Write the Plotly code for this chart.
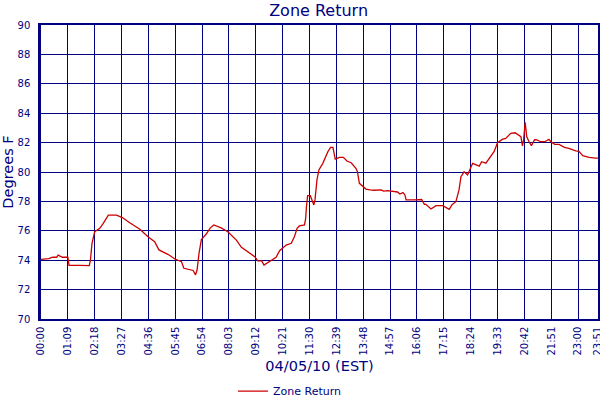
import plotly.graph_objects as go

# Zone Return readings for 04/05/10 (time of day, degrees F)
times = [
    "00:00", "00:20", "00:30", "00:40", "00:44", "00:55", "01:09", "01:12",
    "01:40", "02:04", "02:07", "02:11", "02:18", "02:31", "02:40", "02:53",
    "03:14", "03:29", "03:48", "04:14", "04:35", "04:52", "05:03", "05:26",
    "05:44", "06:01", "06:07", "06:31", "06:37", "06:41", "06:46", "06:52",
    "07:05", "07:15", "07:24", "07:43", "08:00", "08:22", "08:35", "08:52",
    "09:09", "09:17", "09:27", "09:33", "09:40", "09:52", "10:04", "10:13",
    "10:30", "10:43", "10:51", "10:58", "11:04", "11:17", "11:20", "11:22",
    "11:25", "11:32", "11:36", "11:41", "11:44", "11:49", "11:54", "12:04",
    "12:17", "12:24", "12:30", "12:36", "12:47", "12:57", "13:06", "13:17",
    "13:29", "13:33", "13:38", "13:47", "13:55", "14:06", "14:15", "14:34",
    "14:40", "14:51", "15:16", "15:22", "15:30", "15:35", "15:38", "15:59",
    "16:12", "16:18", "16:25", "16:29", "16:42", "16:55", "17:12", "17:29",
    "17:36", "17:46", "17:54", "17:59", "18:03", "18:07", "18:16", "18:22",
    "18:29", "18:46", "18:52", "19:03", "19:16", "19:24", "19:33", "19:45",
    "19:54", "20:07", "20:18", "20:33", "20:37", "20:40", "20:44", "20:48",
    "20:54", "21:00", "21:08", "21:14", "21:24", "21:34", "21:45", "21:50",
    "22:00", "22:11", "22:25", "22:36", "22:54", "23:02", "23:12", "23:28",
    "23:45", "23:51",
]
temps = [
    74.06, 74.1, 74.2, 74.2, 74.35, 74.2, 74.2, 73.65,
    73.65, 73.63, 74.0, 75.15, 75.94, 76.17, 76.5, 77.07,
    77.07, 76.9, 76.55, 76.1, 75.6, 75.26, 74.7, 74.4,
    74.08, 73.9, 73.45, 73.3, 73.0, 73.33, 74.47, 75.4,
    75.8, 76.2, 76.4, 76.2, 75.94, 75.37, 74.88, 74.58,
    74.24, 73.95, 73.95, 73.67, 73.78, 74.0, 74.2, 74.65,
    75.03, 75.15, 75.6, 76.17, 76.33, 76.4, 76.85, 77.64,
    78.39, 78.39, 78.1, 77.76, 78.1, 79.46, 80.14, 80.59,
    81.38, 81.68, 81.68, 80.88, 81.0, 81.0, 80.75, 80.63,
    80.25, 80.02, 79.23, 79.0, 78.84, 78.78, 78.76, 78.78,
    78.7, 78.73, 78.64, 78.5, 78.6, 78.44, 78.1, 78.1,
    78.15, 78.13, 77.8, 77.8, 77.48, 77.71, 77.71, 77.46,
    77.78, 77.98, 78.78, 79.68, 79.84, 80.02, 79.8, 80.14,
    80.59, 80.4, 80.7, 80.6, 81.04, 81.38, 81.99, 82.22,
    82.29, 82.63, 82.67, 82.4, 81.77, 82.2, 83.38, 82.4,
    82.06, 81.79, 82.2, 82.18, 82.06, 82.06, 82.22, 82.06,
    81.88, 81.88, 81.68, 81.61, 81.43, 81.4, 81.11, 81.0,
    80.95, 80.95,
]

tick_labels = [
    "00:00", "01:09", "02:18", "03:27", "04:36", "05:45", "06:54", "08:03",
    "09:12", "10:21", "11:30", "12:39", "13:48", "14:57", "16:06", "17:15",
    "18:24", "19:33", "20:42", "21:51", "23:00", "23:51",
]

day = "2010-04-05 "
x_vals = [day + t + ":00" for t in times]
tick_vals = [day + t + ":00" for t in tick_labels]

navy = "#000080"
font_family = "DejaVu Sans, Verdana, sans-serif"

fig = go.Figure()
fig.add_trace(
    go.Scatter(
        x=x_vals,
        y=temps,
        mode="lines",
        name="Zone Return",
        line=dict(color="#CC0000", width=1.3),
    )
)

fig.update_layout(
    width=600,
    height=400,
    margin=dict(l=41, r=2, t=25, b=81, autoexpand=False),
    paper_bgcolor="white",
    plot_bgcolor="white",
    font=dict(family=font_family, color=navy),
    title=dict(
        text="Zone Return",
        x=0.531,
        xanchor="center",
        y=0.975,
        yanchor="middle",
        font=dict(size=16, color=navy, family=font_family),
    ),
    xaxis=dict(
        type="date",
        range=[day + "00:00:00", day + "23:51:05"],
        tickmode="array",
        tickvals=tick_vals,
        ticktext=tick_labels,
        tickangle=-90,
        tickfont=dict(size=10, color=navy),
        ticklabelstandoff=2,
        ticklabeloverflow="allow",
        showgrid=True,
        gridcolor=navy,
        gridwidth=1,
        showline=True,
        linecolor=navy,
        linewidth=1.5,
        mirror=True,
        ticks="",
        automargin=False,
        title=dict(
            text="04/05/10 (EST)",
            font=dict(size=14.5, color=navy),
            standoff=6,
        ),
    ),
    yaxis=dict(
        range=[70, 90],
        tickmode="linear",
        tick0=70,
        dtick=2,
        tickfont=dict(size=10, color=navy),
        ticklabelstandoff=6,
        showgrid=True,
        gridcolor=navy,
        gridwidth=1,
        showline=True,
        linecolor=navy,
        linewidth=2.5,
        mirror=True,
        ticks="",
        zeroline=False,
        automargin=False,
        title=dict(text="Degrees F", font=dict(size=14.5, color=navy), standoff=4),
    ),
    legend=dict(
        orientation="h",
        x=0.447,
        xanchor="center",
        y=-0.245,
        yanchor="middle",
        font=dict(size=11, color=navy),
        bgcolor="rgba(0,0,0,0)",
    ),
    showlegend=True,
)

fig.write_html(
    "out.html",
    config={"displayModeBar": False},
    post_script="document.body.style.margin = '0';",
)
